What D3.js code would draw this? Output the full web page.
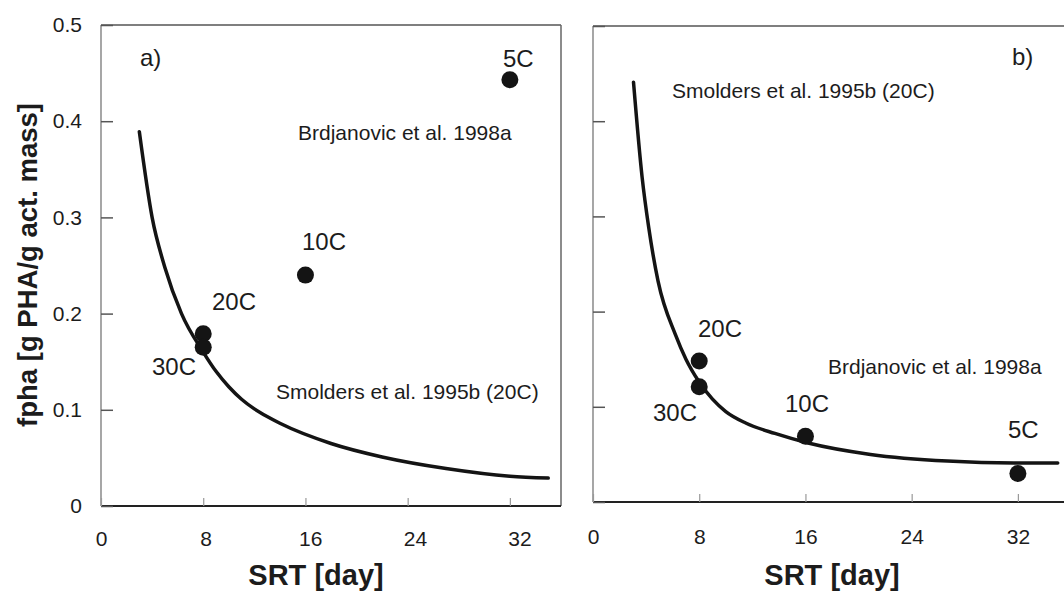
<!DOCTYPE html>
<html lang="en">
<head>
<meta charset="UTF-8">
<title>fpha vs SRT</title>
<script src="https://cdn.jsdelivr.net/npm/d3@7"></script>
<style>
  body { margin: 0; background: #fff; }
  svg { display: block; font-family: "Liberation Sans", Arial, sans-serif; }
  .tick text { fill: #1c1c1c; }
</style>
</head>
<body>
<svg width="1064" height="592"></svg>
<script>
// tick values
var srtTicks = [0, 8, 16, 24, 32];
var fphaTicks = [0, 0.1, 0.2, 0.3, 0.4, 0.5];
var fphaTickLabels = ["0", "0.1", "0.2", "0.3", "0.4", "0.5"];

// measured points (Brdjanovic 1998a, shown against two models)
var tempLabels = ["5C", "10C", "20C", "30C"];
var srtPoints = [32, 16, 8, 8];
var fphaPointsA = [0.443, 0.240, 0.179, 0.165];
var fphaPointsB = [0.030, 0.069, 0.148, 0.121];

// model curves
var srtCurveA = [3.0, 4.0, 5.0, 6.3, 8.0, 9.0, 10.0, 11.0, 12.0, 13.0, 14.0, 18.0, 22.0, 27.0, 32.0, 35.0];
var fphaCurveA = [0.389, 0.300, 0.248, 0.200, 0.160, 0.140, 0.124, 0.111, 0.101, 0.093, 0.086, 0.065, 0.051, 0.039, 0.031, 0.029];
var srtCurveB = [3.05, 3.7, 4.2, 4.9, 6.2, 7.0, 8.0, 9.0, 10.0, 11.5, 13.7, 16.2, 20.9, 26.7, 31.7, 35.0];
var fphaCurveB = [0.441, 0.341, 0.288, 0.232, 0.176, 0.150, 0.126, 0.108, 0.095, 0.083, 0.072, 0.062, 0.050, 0.043, 0.041, 0.041];

var svg = d3.select("svg");

function drawPanel(p) {
    var x = d3.scaleLinear().domain([0, 36]).range([p.left, p.right]);
    var y = d3.scaleLinear().domain([0, 0.5]).range([p.bottom, p.top]);
    var g = svg.append("g");

    // frame
    g.append("line").attr("x1", p.left).attr("x2", p.right).attr("y1", p.top).attr("y2", p.top)
        .attr("stroke", "#555").attr("stroke-width", 1.5);
    g.append("line").attr("x1", p.right).attr("x2", p.right).attr("y1", p.top).attr("y2", p.bottom)
        .attr("stroke", "#666").attr("stroke-width", 1.5);
    g.append("line").attr("x1", p.left).attr("x2", p.left).attr("y1", p.top).attr("y2", p.bottom)
        .attr("stroke", "#777").attr("stroke-width", 1.3);
    g.append("line").attr("x1", p.left).attr("x2", p.right).attr("y1", p.bottom).attr("y2", p.bottom)
        .attr("stroke", "#222").attr("stroke-width", 2);

    // axes, ticks pointing inward
    var yAxis = d3.axisLeft(y).tickValues(fphaTicks).tickSize(-12).tickPadding(19)
        .tickFormat(function(d, i) { return p.yLabels ? fphaTickLabels[i] : ""; });
    var ya = g.append("g").attr("transform", "translate(" + p.left + ",0)").call(yAxis);
    ya.select(".domain").remove();
    ya.selectAll(".tick line").attr("stroke", "#555").attr("stroke-width", 1.5);
    ya.selectAll(".tick text").attr("font-size", 21);

    var xAxis = d3.axisBottom(x).tickValues(srtTicks).tickSize(-8).tickPadding(p.xPad);
    var xa = g.append("g").attr("transform", "translate(0," + p.bottom + ")").call(xAxis);
    xa.select(".domain").remove();
    xa.selectAll(".tick line").attr("stroke", "#999").attr("stroke-width", 1.2);
    xa.selectAll(".tick text").attr("font-size", 21)
        .attr("dx", function(d) { return d * p.labelSkew; });

    // x title
    g.append("text").attr("x", p.titleX).attr("y", 585)
        .attr("text-anchor", "middle").attr("font-size", 29).attr("font-weight", "bold")
        .attr("fill", "#1c1c1c").text("SRT [day]");

    // model curve
    var line = d3.line().curve(d3.curveMonotoneX)
        .x(function(d) { return x(d[0]); }).y(function(d) { return y(d[1]); });
    g.append("path").datum(d3.zip(p.curveX, p.curveY)).attr("d", line)
        .attr("fill", "none").attr("stroke", "#141414").attr("stroke-width", 3.5)
        .attr("stroke-linecap", "round");

    // points
    g.selectAll("circle.pt").data(d3.zip(srtPoints, p.pointsY)).enter().append("circle")
        .attr("class", "pt")
        .attr("cx", function(d) { return x(d[0]); })
        .attr("cy", function(d) { return y(d[1]); })
        .attr("r", 8.5).attr("fill", "#141414");

    // point labels
    g.selectAll("text.lbl").data(p.labelPos).enter().append("text")
        .attr("class", "lbl")
        .attr("x", function(d) { return d[0]; }).attr("y", function(d) { return d[1]; })
        .attr("font-size", 24).attr("fill", "#1c1c1c")
        .text(function(d, i) { return tempLabels[i]; });

    // annotations
    p.notes.forEach(function(n) {
        g.append("text").attr("x", n[0]).attr("y", n[1]).attr("font-size", n[3])
            .attr("fill", "#1c1c1c").text(n[2]);
    });
}

drawPanel({
    left: 101, right: 561, top: 25, bottom: 506, xPad: 25, yLabels: true, titleX: 316, labelSkew: 0.3,
    curveX: srtCurveA, curveY: fphaCurveA, pointsY: fphaPointsA,
    labelPos: [[503, 67], [302, 250], [212, 310], [152, 375]],
    notes: [[140, 66, "a)", 24],
            [298, 140, "Brdjanovic et al. 1998a", 21],
            [276, 399, "Smolders et al. 1995b (20C)", 21]]
});

drawPanel({
    left: 593, right: 1071, top: 26, bottom: 502, xPad: 27, yLabels: false, titleX: 832, labelSkew: 0,
    curveX: srtCurveB, curveY: fphaCurveB, pointsY: fphaPointsB,
    labelPos: [[1008, 438], [785, 412], [698, 337], [653, 421]],
    notes: [[1012, 65, "b)", 24],
            [828, 374, "Brdjanovic et al. 1998a", 21],
            [672, 98, "Smolders et al. 1995b (20C)", 21]]
});

// y title
svg.append("text")
    .attr("transform", "translate(37,265) rotate(-90)")
    .attr("text-anchor", "middle").attr("font-size", 27.5).attr("font-weight", "bold")
    .attr("fill", "#1c1c1c").text("fpha [g PHA/g act. mass]");
</script>
</body>
</html>
